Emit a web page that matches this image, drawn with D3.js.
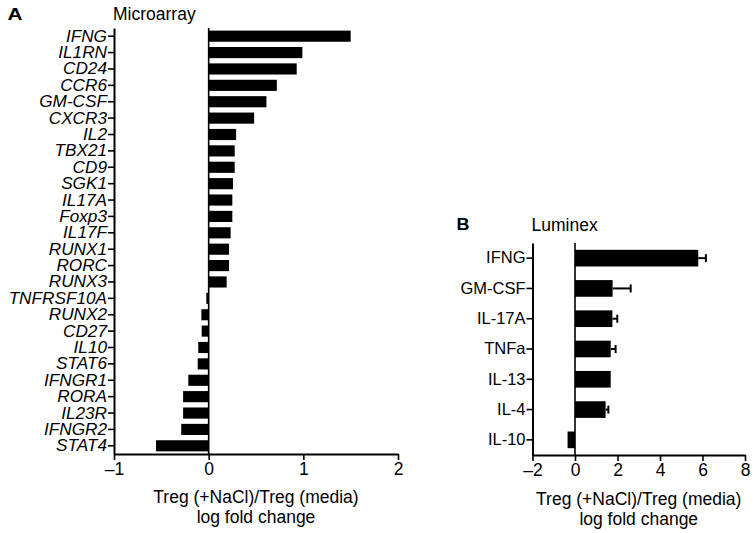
<!DOCTYPE html>
<html><head><meta charset="utf-8">
<script src="https://cdn.jsdelivr.net/npm/d3@7"></script>
<style>
body{margin:0;background:#fff;}
svg{display:block;font-family:"Liberation Sans",Arial,Helvetica,sans-serif;}
</style></head>
<body><svg id="c" width="756" height="533"></svg>
<script>
// Panel A: Microarray
const genesA = ["IFNG","IL1RN","CD24","CCR6","GM-CSF","CXCR3","IL2","TBX21","CD9","SGK1","IL17A","Foxp3","IL17F","RUNX1","RORC","RUNX3","TNFRSF10A","RUNX2","CD27","IL10","STAT6","IFNGR1","RORA","IL23R","IFNGR2","STAT4"];
const valuesA = [1.50,0.99,0.93,0.72,0.61,0.48,0.29,0.275,0.275,0.257,0.25,0.25,0.232,0.215,0.215,0.19,-0.025,-0.077,-0.074,-0.11,-0.116,-0.215,-0.27,-0.27,-0.29,-0.556];
const ticksA = [-1,0,1,2];

// Panel B: Luminex
const cytokinesB = ["IFNG","GM-CSF","IL-17A","TNFa","IL-13","IL-4","IL-10"];
const valuesB = [5.80,1.77,1.76,1.68,1.68,1.44,-0.35];
const errorsB = [0.36,0.85,0.23,0.23,0.0,0.13,0.0];
const ticksB = [-2,0,2,4,6,8];

const svg = d3.select("#c");
const fmt = d => d < 0 ? "\u2013" + Math.abs(d) : String(d);
const FF = "Liberation Sans, Arial, sans-serif";

function panel(o){
  const g = svg.append("g");
  const x = d3.scaleLinear().domain(o.domain).range([o.x0, o.x1]);
  const y = d3.scaleBand().domain(o.cats).range([o.y0, o.y1]).paddingInner(o.pad).paddingOuter(o.pad/2);
  // bars
  g.selectAll("rect.bar").data(o.cats).join("rect")
    .attr("x", (d,i) => x(Math.min(0, o.vals[i])))
    .attr("y", d => y(d))
    .attr("width", (d,i) => Math.abs(x(o.vals[i]) - x(0)))
    .attr("height", y.bandwidth())
    .attr("fill", "#000");
  // error bars
  if (o.errs){
    o.cats.forEach((c,i) => {
      const e = o.errs[i];
      if (e <= 0) return;
      const v = o.vals[i];
      const cy = y(c) + y.bandwidth()/2;
      g.append("line").attr("x1", x(v)).attr("x2", x(v+e)).attr("y1", cy).attr("y2", cy)
        .attr("stroke","#000").attr("stroke-width",2);
      g.append("line").attr("x1", x(v+e)).attr("x2", x(v+e)).attr("y1", cy-4).attr("y2", cy+4)
        .attr("stroke","#000").attr("stroke-width",2);
    });
  }
  // zero line
  g.append("line").attr("x1", x(0)).attr("x2", x(0)).attr("y1", o.y0).attr("y2", o.y1)
    .attr("stroke","#000").attr("stroke-width",1.6);
  // y axis
  const ya = g.append("g").attr("transform", `translate(${o.x0},0)`)
    .call(d3.axisLeft(y).tickSize(6).tickPadding(1).tickSizeOuter(0));
  ya.select(".domain").attr("stroke-width",2);
  ya.selectAll(".tick line").attr("stroke-width",1.6);
  ya.selectAll(".tick text").attr("font-size", o.lfs).attr("fill","#000")
    .attr("font-style", o.italic ? "italic" : "normal")
    .attr("font-family", FF);
  // x axis
  const xa = g.append("g").attr("transform", `translate(0,${o.y1})`)
    .call(d3.axisBottom(x).tickValues(o.ticks).tickFormat(fmt).tickSize(6).tickPadding(3).tickSizeOuter(0));
  xa.select(".domain").attr("stroke-width",2);
  xa.selectAll(".tick line").attr("stroke-width",1.6);
  xa.selectAll(".tick text").attr("font-size", 17.5).attr("fill","#000")
    .attr("font-family", FF);
  // axis title
  const cx = (o.x0 + o.x1)/2;
  g.append("text").attr("x", cx).attr("y", o.t1).attr("text-anchor","middle").attr("font-size",17.5)
    .text("Treg (+NaCl)/Treg (media)");
  g.append("text").attr("x", cx).attr("y", o.t1 + 20).attr("text-anchor","middle").attr("font-size",17.5)
    .text("log fold change");
  // panel letter + title
  g.append("text").attr("x", o.lx).attr("y", o.ly).attr("font-size",16).attr("font-weight","bold")
    .attr("textLength", o.lw).attr("lengthAdjust","spacingAndGlyphs")
    .attr("font-family", FF).text(o.letter);
  g.append("text").attr("x", o.x0 - 1).attr("y", o.ty).attr("font-size",17.5).text(o.title);
}

panel({cats: genesA, vals: valuesA, domain: [-1,2], ticks: ticksA,
  x0: 114, x1: 398, y0: 28, y1: 454, pad: 0.32, italic: true, lfs: 17.2,
  t1: 503, letter: "A", lx: 7.5, ly: 19.5, lw: 15, ty: 19.5, title: "Microarray"});

panel({cats: cytokinesB, vals: valuesB, errs: errorsB, domain: [-2,8], ticks: ticksB,
  x0: 532.5, x1: 745, y0: 243, y1: 455, pad: 0.45, italic: false, lfs: 16.5,
  t1: 505, letter: "B", lx: 456.5, ly: 229.5, lw: 13, ty: 231, title: "Luminex"});
</script></body></html>
